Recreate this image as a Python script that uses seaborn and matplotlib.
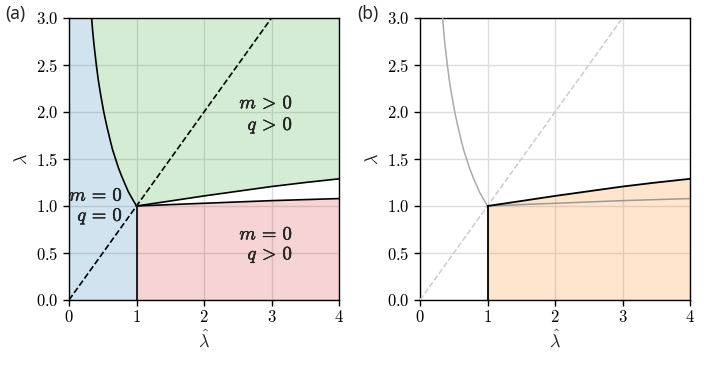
import matplotlib
matplotlib.use("Agg")
import matplotlib.pyplot as plt
import matplotlib.patheffects as pe
import seaborn as sns

# Phase boundaries
# left boundary, from the top of the plot down to the (1, 1) corner
left_hat = [0.335, 0.352, 0.373, 0.405, 0.432, 0.465, 0.515, 0.56, 0.61,
            0.645, 0.69, 0.735, 0.79, 0.82, 0.88, 0.935, 1.0]
left_lam = [3.0, 2.85, 2.7, 2.5, 2.35, 2.2, 2.0, 1.85, 1.7,
            1.6, 1.5, 1.4, 1.3, 1.25, 1.15, 1.08, 1.0]

# right branch boundaries
right_hat = [1.0, 1.5, 2.0, 2.5, 3.0, 3.5, 4.0]
upper_lam = [1.0, 1.053, 1.107, 1.157, 1.207, 1.25, 1.289]
lower_lam = [1.0, 1.015, 1.029, 1.043, 1.057, 1.068, 1.079]

# diagonal lambda = lambda_hat
diag_hat = [0.0, 3.0]
diag_lam = [0.0, 3.0]

# vertical boundary at lambda_hat = 1
vert_hat = [1.0, 1.0]
vert_lam = [0.0, 1.0]

xticks = [0, 1, 2, 3, 4]
yticks = [0.0, 0.5, 1.0, 1.5, 2.0, 2.5, 3.0]
panel_labels = ["(a)", "(b)"]

# region labels: (text, right edge x, baseline y)
region_text = [
    (r"$m\,>\,0$", 3.32, 2.04),
    (r"$q\,>\,0$", 3.32, 1.81),
    (r"$m\,=\,0$", 0.80, 1.057),
    (r"$q\,=\,0$", 0.80, 0.843),
    (r"$m\,=\,0$", 3.32, 0.644),
    (r"$q\,>\,0$", 3.32, 0.433),
]

sns.set_theme(style="whitegrid")
plt.rcParams.update({
    "font.family": ["Noto Sans", "DejaVu Sans"],
    "mathtext.fontset": "cm",
    "axes.edgecolor": "black",
    "axes.linewidth": 1.0,
    "grid.color": "#dddddd",
    "grid.linewidth": 1.0,
    "xtick.bottom": True,
    "ytick.left": True,
    "xtick.color": "black",
    "ytick.color": "black",
    "xtick.major.size": 4,
    "ytick.major.size": 4,
    "xtick.major.width": 1,
    "ytick.major.width": 1,
})

fig = plt.figure(figsize=(7.09, 3.69), dpi=100)
ax_a = fig.add_axes([69 / 709, 69 / 369, 270 / 709, 282 / 369])
ax_b = fig.add_axes([420 / 709, 69 / 369, 270 / 709, 282 / 369])

pal = sns.color_palette("tab10")
blue, orange, green, red = pal[0], pal[1], pal[2], pal[3]

line_kw = dict(estimator=None, sort=False, zorder=3)

# ---- panel (a)
ax = ax_a
blue_y = vert_lam + left_lam[::-1][1:]
blue_x = vert_hat + left_hat[::-1][1:]
ax.fill_betweenx(blue_y, 0, blue_x, color=blue, alpha=0.2, lw=0)
ax.fill(left_hat + right_hat[1:] + [right_hat[-1]],
        left_lam + upper_lam[1:] + [yticks[-1]],
        color=green, alpha=0.2, lw=0)
ax.fill_between(right_hat, 0, lower_lam, color=red, alpha=0.2, lw=0)

sns.lineplot(x=left_hat, y=left_lam, color="black", lw=1.2, ax=ax, **line_kw)
sns.lineplot(x=right_hat, y=upper_lam, color="black", lw=1.2, ax=ax, **line_kw)
sns.lineplot(x=right_hat, y=lower_lam, color="black", lw=1.2, ax=ax, **line_kw)
sns.lineplot(x=vert_hat, y=vert_lam, color="black", lw=1.2, ax=ax, **line_kw)
sns.lineplot(x=diag_hat, y=diag_lam, color="black", lw=1.2, ls="--", ax=ax, **line_kw)

for txt, tx, ty in region_text:
    ax.text(tx, ty, txt, ha="right", va="baseline", fontsize=13.5, zorder=4,
            path_effects=[pe.withStroke(linewidth=0.3, foreground="black")])

# ---- panel (b)
ax = ax_b
ax.fill_between(right_hat, 0, upper_lam, color=orange, alpha=0.2, lw=0)
sns.lineplot(x=left_hat, y=left_lam, color="#aaaaaa", lw=1.1, ax=ax, **line_kw)
sns.lineplot(x=right_hat, y=lower_lam, color="#999999", lw=1.1, ax=ax, **line_kw)
sns.lineplot(x=diag_hat, y=diag_lam, color="#cccccc", lw=1.1, ls="--", ax=ax, **line_kw)
sns.lineplot(x=right_hat, y=upper_lam, color="black", lw=1.3, ax=ax, **line_kw)
sns.lineplot(x=vert_hat, y=vert_lam, color="black", lw=1.3, ax=ax, **line_kw)

for ax, lab, lx in zip([ax_a, ax_b], panel_labels, [5, 357]):
    ax.set_xlim(0, 4)
    ax.set_ylim(0, 3)
    ax.set_xticks(xticks, labels=[f"${t}$" for t in xticks], fontsize=12)
    ax.set_yticks(yticks, labels=[f"${t:.1f}$" for t in yticks], fontsize=12)
    ax.set_xlabel(r"$\hat{\lambda}$", fontsize=13, labelpad=2)
    ax.set_ylabel(r"$\lambda$", fontsize=13, labelpad=4)
    for s in ax.spines.values():
        s.set_color("black")
    fig.text(lx / 709, 1 - 14 / 369, lab, ha="left", va="center", fontsize=12.5)

fig.savefig("out.png", dpi=100)
